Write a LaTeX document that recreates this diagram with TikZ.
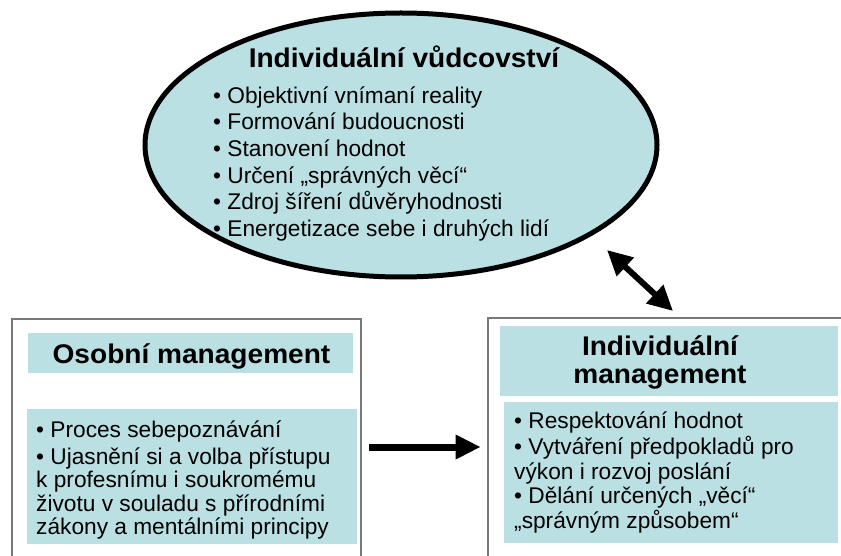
\documentclass[tikz,border=0pt]{standalone}
\usepackage{fontspec}
\setmainfont{Liberation Sans}
\newfontfamily\bfont{Liberation Sans}[FakeStretch=1.04]
\usetikzlibrary{shapes.geometric,arrows.meta}
\definecolor{bandcol}{RGB}{187,224,227}
\definecolor{framecol}{RGB}{120,120,120}
\tikzset{
  framebox/.style={draw=framecol, line width=1.5pt, inner sep=0pt, anchor=north west},
  bandbox/.style={fill=bandcol, inner sep=0pt, anchor=north west},
  txt/.style={inner sep=0pt, align=left, anchor=north west},
  ttl/.style={inner sep=0pt, align=center, font=\bfont\bfseries\fontsize{27}{28}\selectfont},
  arr/.style={line width=7pt, -{Triangle[length=25pt,width=23pt]}},
  dblarr/.style={line width=6pt, {Triangle[length=25pt,width=24pt]}-{Triangle[length=25pt,width=24pt]}}
}
\begin{document}
\begin{tikzpicture}[x=1pt,y=-1pt]
\useasboundingbox (0,0) rectangle (841,556);
\fill[white] (0,0) rectangle (841,556);

% ellipse
\node[ellipse, draw, line width=5pt, fill=bandcol, minimum width=512pt, minimum height=264pt, inner sep=0pt] (ell) at (401,145) {};
\node[ttl, anchor=base] (ettl) at (404,68) {Individuální vůdcovství};
\node[txt, font=\fontsize{22.7}{26.6}\selectfont] (elist) at (213,83) {\rule{0pt}{20pt}• Objektivní vnímaní reality\\
• Formování budoucnosti\\
• Stanovení hodnot\\
• Určení „správných věcí“\\
• Zdroj šíření důvěryhodnosti\\
• Energetizace sebe i druhých lidí};

% left box
\node[framebox, minimum width=349pt, minimum height=300pt] (lbox) at (11,318) {};
\node[bandbox, minimum width=325pt, minimum height=40pt] (lt) at (28,333) {};
\node[bandbox, minimum width=330pt, minimum height=135pt] (lb) at (27,409) {};
\node[ttl, anchor=base] (lttl) at (191.5,363) {Osobní management};
\node[txt, font=\fontsize{22.7}{23.5}\selectfont] (llist) at (36,417) {\rule{0pt}{20pt}• Proces sebepoznávání\\[3.5pt]
• Ujasnění si a volba přístupu\\
k profesnímu i soukromému\\
životu v souladu s přírodními\\
zákony a mentálními principy};

% right box
\node[framebox, minimum width=400pt, minimum height=300pt] (rbox) at (487,317) {};
\node[bandbox, minimum width=338pt, minimum height=70pt] (rt) at (500,326) {};
\node[bandbox, minimum width=334pt, minimum height=141pt] (rb) at (504,402) {};
\node[ttl, anchor=north] (rttl) at (660,331) {\rule{0pt}{24pt}Individuální\\management};
\node[txt, font=\fontsize{22.7}{24.5}\selectfont] (rlist) at (514,408) {\rule{0pt}{20pt}• Respektování hodnot\\[2pt]
• Vytváření předpokladů pro\\
výkon i rozvoj poslání\\
• Dělání určených „věcí“\\
„správným způsobem“};

% arrows
\coordinate (hy) at (0,447);
\draw[arr, shorten <=7pt, shorten >=6.3pt] (lbox.east |- hy) -- (rbox.west |- hy);
\coordinate (d1) at (607,250);
\coordinate (d2) at (673,311);
\draw[dblarr] (d1) -- (d2);
\end{tikzpicture}
\end{document}
